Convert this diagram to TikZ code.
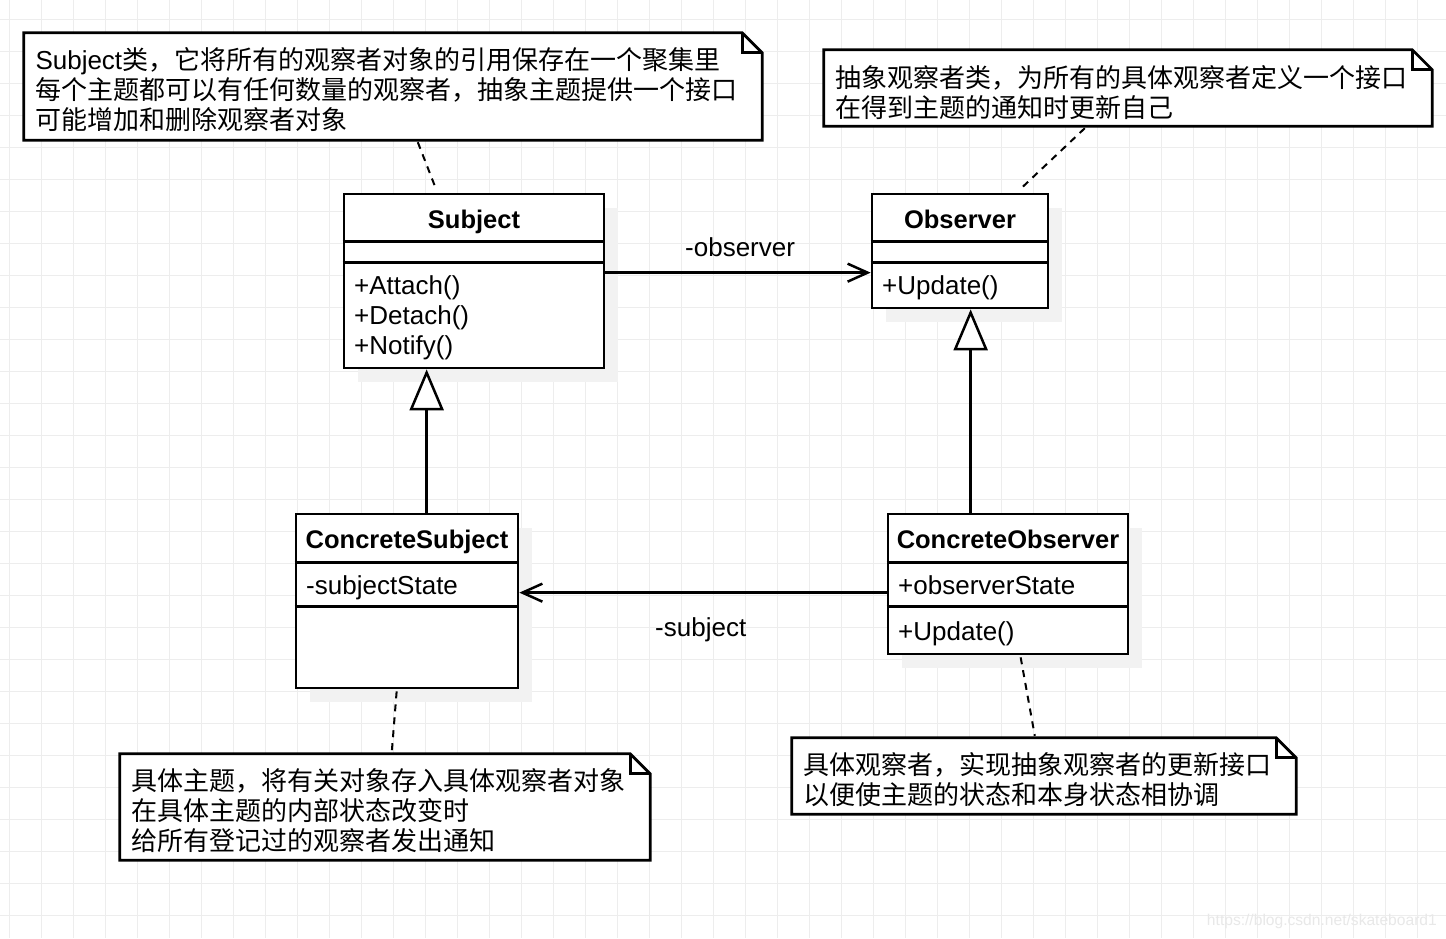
\documentclass[tikz,border=0pt]{standalone}
\usepackage{fontspec}
\setmainfont{Liberation Sans}
\newfontfamily\cjk{Noto Sans CJK SC}
\usetikzlibrary{arrows.meta,shadows}
\pgfdeclarelayer{gridlayer}
\pgfdeclarelayer{notelayer}
\pgfsetlayers{gridlayer,notelayer,main}
\newcommand\notestrut{\rule{0pt}{29pt}}
\tikzset{
  txt/.style={font=\fontsize{26}{30}\selectfont, inner sep=0pt},
  boldtxt/.style={font=\fontsize{25.5}{30}\selectfont\bfseries, inner sep=0pt},
  classbox/.style={draw, line width=2.7pt, fill=white, inner sep=0pt,
    drop shadow={shadow xshift=14pt, shadow yshift=-14pt, fill=black!5, opacity=1}},
  divider/.style={line width=2.6pt},
  notebox/.style={inner xsep=11.5pt, inner ysep=0pt, align=left,
    font=\fontsize{26}{30}\selectfont},
  noteline/.style={draw, line width=2.7pt, fill=white, line join=miter},
  foldline/.style={line width=2.7pt, line join=miter},
  assoc/.style={line width=2.5pt, -{Straight Barb[length=20pt, width=18pt]}},
  gen/.style={line width=2.5pt, -{Triangle[open, length=41pt, width=34pt, fill=white]}},
  anchorline/.style={line width=2pt, dash pattern=on 7pt off 6pt},
  gridline/.style={draw=black!7, line width=1pt},
  watermark/.style={font=\fontsize{15.6}{18}\selectfont, text=black!9, inner sep=0pt},
}
\begin{document}
\begin{tikzpicture}[x=1pt, y=-1pt]
\useasboundingbox (0,0) rectangle (1446,938);
\begin{pgfonlayer}{gridlayer}
  \fill[white] (0,0) rectangle (1446,938);
  \foreach \x in {9,41,...,1445} \draw[gridline] (\x,0) -- (\x,938);
  \foreach \y in {19,51,...,915} \draw[gridline] (0,\y) -- (1446,\y);
\end{pgfonlayer}

% ---------- class boxes ----------
\node[classbox, minimum width=260pt, minimum height=174pt] (subj) at (474,281) {};
\draw[divider] ([yshift=-49pt]subj.north west) -- ([yshift=-49pt]subj.north east);
\draw[divider] ([yshift=-70pt]subj.north west) -- ([yshift=-70pt]subj.north east);
\node[boldtxt, anchor=base] (subjT) at (474,228) {Subject};
\node[txt, anchor=base west] (subjM1) at (354,294) {+Attach()};
\node[txt, anchor=base west] (subjM2) at (354,324) {+Detach()};
\node[txt, anchor=base west] (subjM3) at (354,354) {+Notify()};

\node[classbox, minimum width=176pt, minimum height=114pt] (obs) at (960,251) {};
\draw[divider] ([yshift=-49pt]obs.north west) -- ([yshift=-49pt]obs.north east);
\draw[divider] ([yshift=-70pt]obs.north west) -- ([yshift=-70pt]obs.north east);
\node[boldtxt, anchor=base] (obsT) at (960,228) {Observer};
\node[txt, anchor=base west] (obsM1) at (882,294) {+Update()};

\node[classbox, minimum width=222pt, minimum height=174pt] (csubj) at (407,601) {};
\draw[divider] ([yshift=-50pt]csubj.north west) -- ([yshift=-50pt]csubj.north east);
\draw[divider] ([yshift=-94pt]csubj.north west) -- ([yshift=-94pt]csubj.north east);
\node[boldtxt, anchor=base] (csubjT) at (407,548) {ConcreteSubject};
\node[txt, anchor=base west] (csubjA1) at (306,594) {-subjectState};

\node[classbox, minimum width=240pt, minimum height=140pt] (cobs) at (1008,584) {};
\draw[divider] ([yshift=-50pt]cobs.north west) -- ([yshift=-50pt]cobs.north east);
\draw[divider] ([yshift=-94pt]cobs.north west) -- ([yshift=-94pt]cobs.north east);
\node[boldtxt, anchor=base] (cobsT) at (1008,548) {ConcreteObserver};
\node[txt, anchor=base west] (cobsA1) at (898,594) {+observerState};
\node[txt, anchor=base west] (cobsM1) at (898,640) {+Update()};

% ---------- notes ----------
\node[notebox, minimum width=738pt, minimum height=107pt, text width=715pt] (n1) at (393,86.5)
  {\notestrut Subject{\cjk 类，它将所有的观察者对象的引用保存在一个聚集里}\\
   {\cjk 每个主题都可以有任何数量的观察者，抽象主题提供一个接口}\\
   {\cjk 可能增加和删除观察者对象}};
\node[notebox, minimum width=608pt, minimum height=76pt, text width=585pt] (n2) at (1128,88)
  {\rule{0pt}{31pt}{\cjk 抽象观察者类，为所有的具体观察者定义一个接口}\\
   {\cjk 在得到主题的通知时更新自己}};
\node[notebox, minimum width=530pt, minimum height=106pt, text width=507pt] (n3) at (385,807)
  {\notestrut{\cjk 具体主题，将有关对象存入具体观察者对象}\\
   {\cjk 在具体主题的内部状态改变时}\\
   {\cjk 给所有登记过的观察者发出通知}};
\node[notebox, minimum width=504pt, minimum height=76pt, text width=481pt] (n4) at (1044,776)
  {\notestrut{\cjk 具体观察者，实现抽象观察者的更新接口}\\
   {\cjk 以便使主题的状态和本身状态相协调}};

\begin{pgfonlayer}{notelayer}
  \foreach \n in {n1,n2,n3,n4} {
    \draw[noteline] (\n.north west) -- ([xshift=-20pt]\n.north east)
      -- ([yshift=-20pt]\n.north east) -- (\n.south east) -- (\n.south west) -- cycle;
  }
\end{pgfonlayer}
\foreach \n in {n1,n2,n3,n4} {
  \draw[foldline] ([xshift=-20pt]\n.north east) -- ([xshift=-20pt,yshift=-20pt]\n.north east)
    -- ([yshift=-20pt]\n.north east);
}

% ---------- connectors ----------
\draw[assoc] ([yshift=-80pt]subj.north east) -- ([yshift=-80pt]obs.north west);
\node[txt, anchor=base west] (lobs) at (685,256) {-observer};
\draw[assoc] ([yshift=-80pt]cobs.north west) -- ([yshift=-80pt]csubj.north east);
\node[txt, anchor=base west] (lsubj) at (655,636) {-subject};

\coordinate (gs) at ([xshift=84pt]subj.south west);
\draw[gen] (gs |- csubj.north) -- (gs);
\coordinate (go) at ([xshift=100pt]obs.south west);
\draw[gen] (go |- cobs.north) -- (go);

\draw[anchorline] ([xshift=394pt,yshift=-2pt]n1.south west) -- ([xshift=94pt,yshift=2pt]subj.north west);
\draw[anchorline] ([xshift=261pt,yshift=-2pt]n2.south west) -- ([xshift=148pt,yshift=2pt]obs.north west);
\draw[anchorline] ([xshift=102pt,yshift=-2pt]csubj.south west) -- ([xshift=272pt,yshift=2pt]n3.north west);
\draw[anchorline] ([xshift=134pt,yshift=-2pt]cobs.south west) -- ([xshift=243pt,yshift=2pt]n4.north west);

\node[watermark, anchor=base east] (wm) at (1437,925) {https://blog.csdn.net/skateboard1};
\end{tikzpicture}
\end{document}
